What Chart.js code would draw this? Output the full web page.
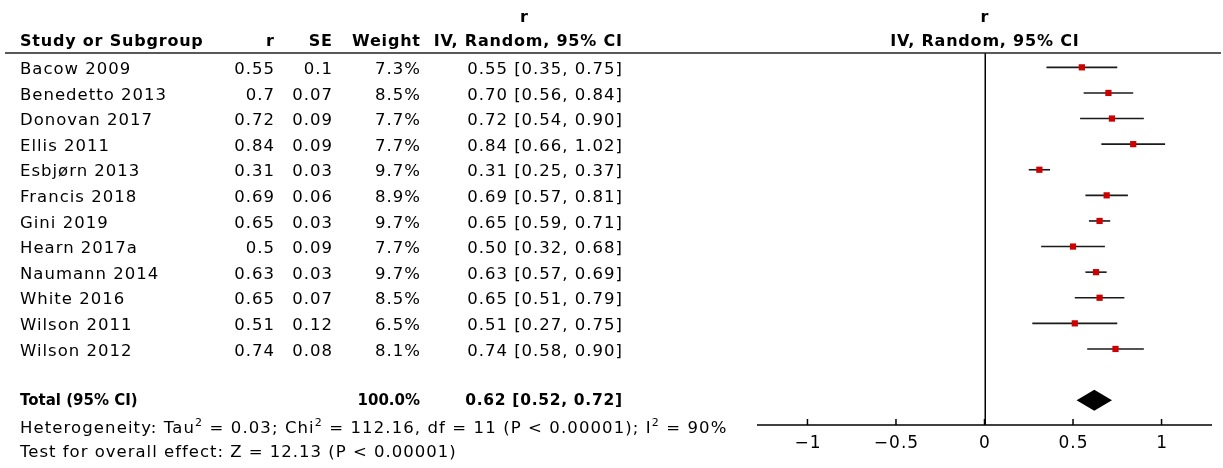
<!DOCTYPE html>
<html><head><meta charset="utf-8">
<script src="https://cdn.jsdelivr.net/npm/chart.js@4.4.1/dist/chart.umd.min.js"></script>
<style>html,body{margin:0;padding:0;background:#fff;}canvas{display:block;}</style>
</head><body>
<canvas id="c" width="1223" height="468"></canvas>
<script>
const studies = ["Bacow 2009","Benedetto 2013","Donovan 2017","Ellis 2011","Esbjørn 2013","Francis 2018","Gini 2019","Hearn 2017a","Naumann 2014","White 2016","Wilson 2011","Wilson 2012"];
const rValues = [0.55,0.7,0.72,0.84,0.31,0.69,0.65,0.5,0.63,0.65,0.51,0.74];
const seValues = [0.1,0.07,0.09,0.09,0.03,0.06,0.03,0.09,0.03,0.07,0.12,0.08];
const weights = [7.3,8.5,7.7,7.7,9.7,8.9,9.7,7.7,9.7,8.5,6.5,8.1];
const ciLower = [0.35,0.56,0.54,0.66,0.25,0.57,0.59,0.32,0.57,0.51,0.27,0.58];
const ciUpper = [0.75,0.84,0.90,1.02,0.37,0.81,0.71,0.68,0.69,0.79,0.75,0.90];
const totalEstimate = 0.62;
const totalLower = 0.52;
const totalUpper = 0.72;
const totalWeight = 100.0;
const xTicks = [-1,-0.5,0,0.5,1];
const xTickLabels = ["\u22121","\u22120.5","0","0.5","1"];
const heterogeneityParts = [["Heterogeneity: Tau",0],["2",1],[" = 0.03; Chi",0],["2",1],[" = 112.16, df = 11 (P < 0.00001); I",0],["2",1],[" = 90%",0]];
const overallText = "Test for overall effect: Z = 12.13 (P < 0.00001)";

const TOTAL_ROW = 13;
const FONT = '"DejaVu Sans", sans-serif';
const FS = 16.5;

function setFont(ctx, bold, size){
  ctx.font = (bold ? 'bold ' : '') + size + 'px ' + FONT;
}
function txt(ctx, s, x, y, align, bold, size, spacing){
  const sp = (spacing === undefined) ? 1 : spacing;
  ctx.letterSpacing = sp + 'px';
  setFont(ctx, bold, size || FS);
  ctx.textAlign = 'left';
  const w = ctx.measureText(s).width - sp;
  let x0 = x;
  if (align === 'right') x0 = x - w;
  else if (align === 'center') x0 = x - w/2;
  ctx.fillText(s, x0, y);
}

const forestPlugin = {
  id: 'forest',
  beforeDatasetsDraw(chart){
    const ctx = chart.ctx, xs = chart.scales.x, ca = chart.chartArea;
    ctx.save();
    ctx.strokeStyle = '#000';
    ctx.lineWidth = 1.5;
    const x0 = Math.round(xs.getPixelForValue(0)) + 0.25;
    ctx.beginPath(); ctx.moveTo(x0, ca.top); ctx.lineTo(x0, ca.bottom); ctx.stroke();
    ctx.restore();
  },
  afterDatasetsDraw(chart){
    const ctx = chart.ctx, xs = chart.scales.x, ys = chart.scales.y;
    const yc = ys.getPixelForValue(TOTAL_ROW);
    const h = 10.5;
    ctx.save();
    ctx.fillStyle = '#000';
    ctx.beginPath();
    ctx.moveTo(xs.getPixelForValue(totalLower), yc);
    ctx.lineTo(xs.getPixelForValue(totalEstimate), yc - h);
    ctx.lineTo(xs.getPixelForValue(totalUpper), yc);
    ctx.lineTo(xs.getPixelForValue(totalEstimate), yc + h);
    ctx.closePath();
    ctx.fill();
    ctx.restore();
  },
  afterDraw(chart){
    const ctx = chart.ctx, xs = chart.scales.x, ys = chart.scales.y, ca = chart.chartArea;
    ctx.save();
    ctx.fillStyle = '#000';
    ctx.textBaseline = 'alphabetic';
    // header line
    ctx.strokeStyle = '#222';
    ctx.lineWidth = 1.5;
    ctx.beginPath(); ctx.moveTo(5, ca.top); ctx.lineTo(1221, ca.top); ctx.stroke();
    // axis
    ctx.strokeStyle = '#000';
    ctx.beginPath(); ctx.moveTo(ca.left, ca.bottom); ctx.lineTo(ca.right, ca.bottom); ctx.stroke();
    xTicks.forEach((v, k) => {
      const px = xs.getPixelForValue(v);
      ctx.beginPath(); ctx.moveTo(px, ca.bottom - 6); ctx.lineTo(px, ca.bottom); ctx.stroke();
      txt(ctx, xTickLabels[k], px, 448, 'center', false, 17);
    });
    // headers
    const colR = 274, colSE = 332, colW = 420, colCI = 622, colName = 20;
    const HB = 16, HS = 0.8;
    txt(ctx, 'r', 524, 22, 'center', true, HB, HS);
    txt(ctx, 'Study or Subgroup', colName, 46, 'left', true, HB, HS);
    txt(ctx, 'r', colR, 46, 'right', true, HB, HS);
    txt(ctx, 'SE', colSE, 46, 'right', true, HB, HS);
    txt(ctx, 'Weight', colW, 46, 'right', true, HB, HS);
    txt(ctx, 'IV, Random, 95% CI', colCI, 46, 'right', true, HB, HS);
    const mid = (ca.left + ca.right) / 2;
    txt(ctx, 'r', mid, 22, 'center', true, HB, HS);
    txt(ctx, 'IV, Random, 95% CI', mid, 46, 'center', true, HB, HS);
    // rows
    studies.forEach((s, i) => {
      const yb = ys.getPixelForValue(i) + 6.7;
      txt(ctx, s, colName, yb, 'left');
      txt(ctx, String(rValues[i]), colR, yb, 'right');
      txt(ctx, String(seValues[i]), colSE, yb, 'right');
      txt(ctx, weights[i].toFixed(1) + '%', colW, yb, 'right');
      txt(ctx, rValues[i].toFixed(2) + ' [' + ciLower[i].toFixed(2) + ', ' + ciUpper[i].toFixed(2) + ']', colCI, yb, 'right');
    });
    const yt = ys.getPixelForValue(TOTAL_ROW) + 4.5;
    txt(ctx, 'Total (95% CI)', colName, yt, 'left', true, 15, 0);
    txt(ctx, totalWeight.toFixed(1) + '%', colW, yt, 'right', true, 15, 0);
    txt(ctx, totalEstimate.toFixed(2) + ' [' + totalLower.toFixed(2) + ', ' + totalUpper.toFixed(2) + ']', colCI, yt, 'right', true, 15.5, 0.7);
    // heterogeneity with superscripts
    ctx.letterSpacing = '1.1px';
    let x = colName;
    const hb = 433;
    heterogeneityParts.forEach(([s, sup]) => {
      ctx.textAlign = 'left';
      if (sup) { setFont(ctx, false, 11); ctx.fillText(s, x, hb - 7); }
      else { setFont(ctx, false, FS); ctx.fillText(s, x, hb); }
      x += ctx.measureText(s).width;
    });
    txt(ctx, overallText, colName, 457, 'left');
    ctx.restore();
  }
};

const datasets = [];
datasets.push({
  type: 'scatter',
  data: rValues.map((r, i) => ({x: r, y: i})),
  pointStyle: 'rect',
  pointRadius: 4.4,
  pointHoverRadius: 4.4,
  backgroundColor: '#cc0000',
  borderWidth: 0,
  order: 0
});
studies.forEach((s, i) => {
  datasets.push({
    type: 'line',
    label: s,
    data: [{x: ciLower[i], y: i}, {x: ciUpper[i], y: i}],
    borderColor: '#1a1a1a',
    borderWidth: 1.6,
    pointRadius: 0,
    fill: false,
    order: 1
  });
});

new Chart(document.getElementById('c'), {
  type: 'scatter',
  data: { datasets },
  options: {
    responsive: false,
    animation: false,
    devicePixelRatio: 1,
    layout: { padding: { left: 757, right: 11, top: 53, bottom: 43 } },
    plugins: { legend: { display: false }, tooltip: { enabled: false } },
    scales: {
      x: { type: 'linear', min: -1.285, max: 1.285, display: false },
      y: { type: 'linear', min: -0.56, max: 13.97, reverse: true, display: false }
    }
  },
  plugins: [forestPlugin]
});
</script>
</body></html>
